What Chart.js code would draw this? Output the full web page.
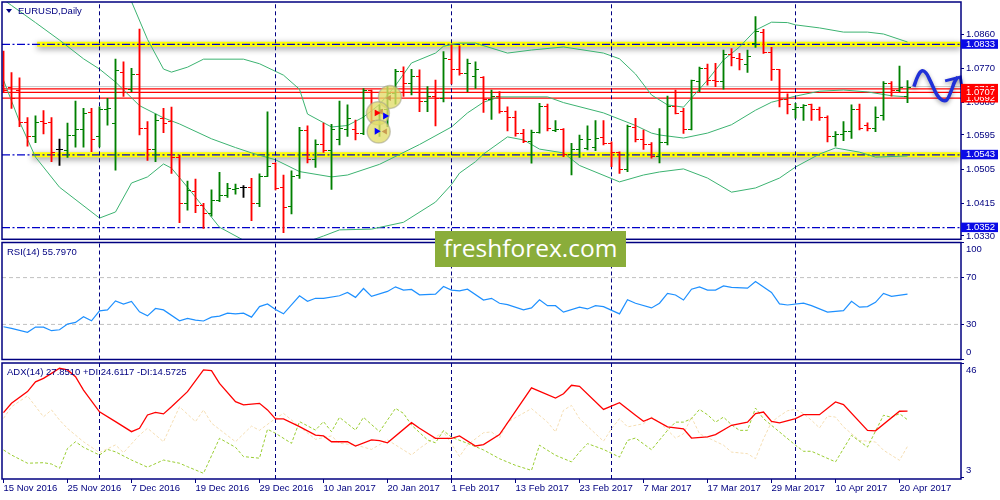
<!DOCTYPE html>
<html><head><meta charset="utf-8"><title>EURUSD Daily</title>
<script src="https://cdn.jsdelivr.net/npm/chart.js@4/dist/chart.umd.min.js"></script>
<style>
html,body{margin:0;padding:0;background:#fff;overflow:hidden}
#wrap{position:relative;width:1000px;height:500px;background:#fff}
#wrap canvas{position:absolute;left:0}
.t{position:absolute;font-family:'Liberation Sans',Arial,sans-serif;font-size:9.5px;line-height:10px;color:#000080;white-space:nowrap}
#tri{position:absolute;left:6px;top:9px;width:0;height:0;border-left:3px solid transparent;border-right:3px solid transparent;border-top:4px solid #000080}
#wm{position:absolute;left:435px;top:231px;width:191px;height:36px;background:#8aad3a;color:#fff;font-family:'Open Sans',sans-serif;font-size:24.5px;line-height:34px;text-align:center}
</style></head><body>
<div id="wrap">
<canvas id="cMain" width="1000" height="241" style="top:0"></canvas>
<canvas id="cRsi" width="1000" height="120" style="top:241px"></canvas>
<canvas id="cAdx" width="1000" height="139" style="top:361px"></canvas>
<div id="tri"></div>
<div class="t" style="left:18px;top:6px">EURUSD,Daily</div>
<div class="t" style="left:7px;top:247px">RSI(14) 55.7970</div>
<div class="t" style="left:7px;top:367px">ADX(14) 27.8510 +DI:24.6117 -DI:14.5725</div>
<div id="wm">freshforex.com</div>
</div>
<script>
// ---------------- data ----------------
const dateTicks = ["15 Nov 2016","25 Nov 2016","7 Dec 2016","19 Dec 2016","29 Dec 2016","10 Jan 2017","20 Jan 2017","1 Feb 2017","13 Feb 2017","23 Feb 2017","7 Mar 2017","17 Mar 2017","29 Mar 2017","10 Apr 2017","20 Apr 2017"];
const opens = [1.0724,1.0720,1.0713,1.0627,1.0592,1.0630,1.0627,1.0556,1.0554,1.0593,
1.0610,1.0654,1.0591,1.0661,1.0624,1.0760,1.0715,1.0753,1.0613,1.0558,
1.0639,1.0630,1.0536,1.0414,1.0446,1.0411,1.0388,1.0424,1.0435,1.0453,
1.0458,1.0457,1.0414,1.0487,1.0519,1.0457,1.0407,1.0490,1.0606,1.0531,
1.0569,1.0554,1.0582,1.0610,1.0610,1.0600,1.0711,1.0633,1.0661,1.0704,
1.0761,1.0731,1.0748,1.0682,1.0696,1.0691,1.0794,1.0767,1.0757,1.0748,
1.0746,1.0687,1.0696,1.0656,1.0641,1.0598,1.0578,1.0601,1.0671,1.0606,
1.0610,1.0545,1.0557,1.0560,1.0563,1.0589,1.0573,1.0549,1.0505,1.0615,
1.0582,1.0569,1.0538,1.0575,1.0671,1.0656,1.0610,1.0735,1.0770,1.0739,
1.0736,1.0805,1.0796,1.0781,1.0834,1.0864,1.0811,1.0766,1.0689,1.0662,
1.0668,1.0674,1.0662,1.0641,1.0591,1.0595,1.0604,1.0662,1.0619,1.0612,
1.0647,1.0729,1.0711,1.0696];
const highs = [1.0815,1.0759,1.0745,1.0641,1.0645,1.0659,1.0641,1.0584,1.0626,1.0684,
1.0665,1.0665,1.0669,1.0691,1.0794,1.0787,1.0770,1.0873,1.0630,1.0650,
1.0665,1.0668,1.0542,1.0474,1.0479,1.0416,1.0451,1.0497,1.0468,1.0466,
1.0462,1.0481,1.0493,1.0656,1.0522,1.0490,1.0501,1.0615,1.0619,1.0582,
1.0626,1.0623,1.0684,1.0674,1.0634,1.0717,1.0713,1.0674,1.0722,1.0767,
1.0774,1.0767,1.0766,1.0722,1.0739,1.0814,1.0831,1.0829,1.0794,1.0787,
1.0748,1.0713,1.0709,1.0669,1.0658,1.0610,1.0608,1.0678,1.0676,1.0633,
1.0612,1.0573,1.0595,1.0619,1.0633,1.0633,1.0577,1.0551,1.0621,1.0639,
1.0608,1.0575,1.0612,1.0697,1.0713,1.0665,1.0739,1.0773,1.0781,1.0783,
1.0818,1.0822,1.0809,1.0818,1.0906,1.0872,1.0825,1.0767,1.0703,1.0678,
1.0675,1.0676,1.0668,1.0645,1.0604,1.0630,1.0674,1.0676,1.0627,1.0669,
1.0735,1.0735,1.0776,1.0738];
const lows = [1.0709,1.0665,1.0617,1.0566,1.0575,1.0598,1.0525,1.0515,1.0536,1.0563,
1.0563,1.0551,1.0564,1.0621,1.0503,1.0696,1.0709,1.0595,1.0528,1.0525,
1.0601,1.0494,1.0365,1.0398,1.0391,1.0350,1.0382,1.0420,1.0431,1.0440,
1.0431,1.0370,1.0407,1.0486,1.0451,1.0339,1.0388,1.0481,1.0522,1.0510,
1.0549,1.0452,1.0569,1.0591,1.0582,1.0596,1.0627,1.0591,1.0617,1.0676,
1.0696,1.0700,1.0656,1.0656,1.0619,1.0682,1.0729,1.0752,1.0709,1.0717,
1.0654,1.0636,1.0652,1.0606,1.0592,1.0575,1.0521,1.0600,1.0606,1.0604,
1.0538,1.0490,1.0536,1.0556,1.0554,1.0569,1.0512,1.0494,1.0499,1.0577,
1.0557,1.0534,1.0522,1.0569,1.0650,1.0599,1.0608,1.0709,1.0726,1.0722,
1.0715,1.0776,1.0766,1.0759,1.0825,1.0809,1.0738,1.0669,1.0650,1.0639,
1.0633,1.0633,1.0633,1.0577,1.0566,1.0580,1.0586,1.0608,1.0606,1.0604,
1.0634,1.0697,1.0709,1.0680];
const closes = [1.0713,1.0691,1.0627,1.0592,1.0627,1.0626,1.0550,1.0556,1.0593,1.0610,
1.0652,1.0584,1.0662,1.0665,1.0763,1.0716,1.0753,1.0613,1.0558,1.0634,
1.0626,1.0536,1.0414,1.0449,1.0411,1.0389,1.0424,1.0437,1.0455,1.0455,
1.0458,1.0414,1.0487,1.0513,1.0455,1.0405,1.0487,1.0606,1.0531,1.0569,
1.0554,1.0610,1.0612,1.0639,1.0600,1.0711,1.0633,1.0661,1.0704,1.0761,
1.0731,1.0748,1.0682,1.0696,1.0691,1.0796,1.0767,1.0757,1.0783,1.0766,
1.0687,1.0696,1.0656,1.0641,1.0598,1.0578,1.0601,1.0671,1.0612,1.0610,
1.0545,1.0557,1.0582,1.0582,1.0586,1.0573,1.0549,1.0505,1.0617,1.0582,
1.0569,1.0538,1.0575,1.0671,1.0652,1.0610,1.0738,1.0770,1.0738,1.0736,
1.0805,1.0799,1.0792,1.0802,1.0866,1.0811,1.0766,1.0689,1.0674,1.0668,
1.0673,1.0662,1.0641,1.0591,1.0595,1.0604,1.0662,1.0612,1.0613,1.0641,
1.0729,1.0711,1.0720,1.0720];

// Bollinger bands: [bar index, price]
const bbUpper = [[14,1.1030],[16,1.0945],[18,1.0846],[20,1.0768],[21,1.0760],[23,1.0773],[25,1.0794],[30,1.0794],[32,1.0782],[35,1.0752],[37,1.0715],[38,1.0650],[41,1.0616],[43,1.0620],[45,1.0642],[47,1.0675],[49,1.0725],[51,1.0784],[54,1.0810],[55,1.0828],[57,1.0836],[59,1.0836],[63,1.0810],[66,1.0818],[70,1.0826],[75,1.0810],[77,1.0795],[79,1.0755],[81,1.0700],[83,1.0674],[85,1.0668],[86,1.0692],[88,1.0739],[90,1.0792],[92,1.0826],[94,1.0870],[96,1.0891],[98,1.0890],[99,1.0884],[102,1.0876],[105,1.0865],[108,1.0865],[110,1.0860],[113,1.0839]];
const bbMiddle = [[0,1.0950],[1,1.0935],[4,1.0890],[7,1.0844],[10,1.0795],[12,1.0768],[14,1.0734],[17,1.0672],[20,1.0640],[22,1.0624],[26,1.0585],[29,1.0562],[31,1.0548],[34,1.0530],[37,1.0499],[41,1.0485],[43,1.0490],[47,1.0518],[52,1.0570],[56,1.0616],[58,1.0653],[60,1.0681],[62,1.0695],[68,1.0695],[70,1.0680],[75,1.0653],[79,1.0620],[81,1.0600],[82,1.0595],[85,1.0587],[88,1.0600],[91,1.0622],[94,1.0660],[96,1.0681],[99,1.0697],[102,1.0710],[105,1.0713],[108,1.0708],[111,1.0698],[113,1.0695]];
const bbLower = [[0,1.0739],[2,1.0630],[4,1.0537],[7,1.0458],[12,1.0377],[14,1.0393],[16,1.0469],[18,1.0485],[20,1.0519],[21,1.0508],[23,1.0458],[27,1.0353],[30,1.0319],[32,1.0300],[36,1.0300],[40,1.0330],[42,1.0346],[46,1.0348],[50,1.0366],[54,1.0419],[56,1.0465],[57,1.0495],[59,1.0525],[60,1.0545],[63,1.0590],[65,1.0582],[67,1.0558],[70,1.0548],[72,1.0515],[77,1.0472],[80,1.0490],[82,1.0498],[85,1.0506],[88,1.0482],[91,1.0445],[94,1.0456],[97,1.0482],[99,1.0511],[102,1.0545],[104,1.0561],[107,1.0550],[109,1.0537],[113,1.0540]];

const rsiPts = [[0,28.0],[1,26.6],[3,23.2],[4,27.7],[5,27.7],[6,24.6],[7,25.4],[8,30.3],[9,31.7],[10,36.5],[11,33.1],[12,41.6],[13,42.4],[14,50.1],[15,47.3],[16,49.6],[17,40.7],[18,37.3],[19,43.6],[20,42.4],[22,33.1],[23,35.1],[24,33.7],[25,32.9],[26,36.2],[27,37.1],[28,39.6],[29,39.0],[30,39.6],[31,36.2],[32,45.2],[33,47.5],[34,42.7],[35,39.0],[37,54.5],[38,49.7],[39,52.3],[40,52.3],[42,54.5],[43,57.3],[44,53.1],[45,60.7],[46,54.0],[48,58.2],[49,62.1],[50,59.3],[51,59.9],[52,55.3],[54,55.9],[55,62.4],[56,59.3],[57,58.7],[58,60.1],[60,50.8],[61,52.3],[62,48.1],[63,46.9],[65,42.4],[66,44.1],[67,51.1],[68,46.0],[69,46.0],[70,40.5],[72,44.7],[73,43.2],[74,46.0],[75,45.2],[77,39.0],[78,51.1],[79,48.1],[81,44.1],[82,48.1],[83,56.5],[84,55.1],[85,50.8],[86,60.1],[87,62.1],[88,59.3],[89,59.3],[90,62.9],[91,61.6],[93,61.0],[94,66.6],[96,57.3],[97,47.5],[98,46.6],[100,48.1],[101,46.0],[103,40.5],[105,41.8],[106,49.7],[107,44.7],[108,45.2],[109,48.9],[110,56.5],[111,54.0],[113,55.8]];

const adxPts = [[0,27.3],[1,30.8],[3,35.2],[4,38.9],[5,40.2],[6,42.1],[7,44.0],[8,43.4],[9,40.8],[10,35.8],[12,27.6],[14,23.9],[16,20.1],[17,21.4],[18,26.4],[19,27.4],[20,26.8],[21,29.5],[23,35.2],[25,43.4],[26,43.1],[27,38.3],[29,31.4],[30,30.2],[32,30.8],[33,28.3],[34,24.9],[35,24.9],[37,22.0],[39,18.8],[40,18.5],[41,16.3],[43,16.3],[44,14.7],[46,17.0],[47,16.7],[48,15.9],[51,23.5],[52,21.4],[54,17.6],[56,17.6],[57,18.5],[59,14.7],[60,15.2],[62,19.0],[66,36.6],[69,32.8],[70,34.4],[71,37.6],[72,37.2],[75,28.5],[77,31.0],[79,26.3],[80,24.0],[81,25.3],[83,21.9],[85,21.2],[86,17.7],[88,18.1],[89,19.0],[91,22.5],[93,23.7],[94,26.9],[95,27.5],[96,24.0],[97,23.4],[99,25.0],[100,26.5],[102,26.5],[104,31.3],[105,30.3],[108,20.6],[109,20.4],[112,27.8],[113,27.85]];
const plusDiPts = [[0,13.2],[1,11.3],[3,8.2],[5,8.4],[6,7.9],[7,6.3],[8,13.8],[9,16.3],[10,14.2],[12,11.3],[13,13.4],[14,12.5],[16,9.4],[18,6.7],[20,9.4],[22,8.2],[23,6.9],[25,4.4],[27,17.6],[29,14.2],[30,10.7],[32,10.1],[33,21.0],[34,19.5],[36,15.7],[37,23.9],[39,20.7],[40,23.9],[41,20.1],[42,25.5],[44,20.7],[45,25.5],[47,20.1],[49,28.9],[50,27.0],[51,22.6],[53,17.0],[54,15.9],[55,20.5],[56,18.0],[58,15.7],[60,13.2],[62,9.9],[64,7.4],[66,5.5],[67,15.0],[69,11.2],[71,8.7],[72,12.4],[73,15.6],[75,13.4],[77,10.5],[78,16.8],[79,17.7],[81,13.3],[83,20.6],[84,23.7],[85,23.7],[86,25.0],[87,28.5],[88,26.5],[89,23.7],[90,25.6],[91,22.7],[92,20.6],[93,20.6],[94,29.0],[95,25.0],[97,20.0],[99,15.0],[100,12.7],[101,12.7],[104,8.7],[106,18.7],[108,14.3],[110,26.3],[111,25.5],[112,26.9],[113,24.6]];
const minusDiPts = [[0,25.1],[1,29.5],[3,33.6],[5,25.7],[6,28.3],[7,24.5],[8,21.3],[10,16.3],[12,12.2],[14,15.1],[15,12.2],[17,18.8],[18,21.4],[20,16.3],[22,29.5],[24,23.9],[25,28.3],[26,23.3],[29,16.3],[31,22.2],[32,20.6],[34,25.1],[35,27.0],[37,22.0],[39,17.2],[41,18.5],[42,15.7],[44,15.1],[46,13.4],[48,17.0],[50,13.2],[51,11.3],[52,13.8],[55,20.1],[57,10.7],[58,15.1],[60,19.7],[61,20.0],[62,17.7],[63,23.7],[66,28.8],[68,23.7],[69,20.0],[70,28.2],[71,30.0],[72,25.0],[75,16.5],[76,21.2],[77,25.0],[78,21.9],[80,23.1],[81,25.6],[82,23.7],[84,17.7],[85,19.3],[86,25.6],[87,19.3],[90,15.0],[91,12.4],[93,11.8],[94,9.9],[95,17.4],[96,23.7],[97,26.0],[98,28.0],[99,28.5],[100,26.9],[101,24.4],[102,21.5],[103,26.0],[104,25.6],[105,21.9],[107,16.8],[109,16.2],[110,13.1],[112,9.3],[113,14.57]];

const priceTicks = [1.0860,1.0770,1.0680,1.0595,1.0505,1.0415,1.0330];
const rsiTicks = [0,30,70,100];
const adxTicks = [3,46];
const rsiLevels = [70,30];
const yellowLevels = [1.0833,1.0543];
const yellowStart = [4.2,3.6];
const dashLevels = [1.0833,1.0543,1.0352];
const redLevels = [1.0716,1.0707,1.0692];
const greyLevel = 1.0722;
const monthStarts = [12,34,56,76,99];
const labelBoxes = [
  {v:1.0833,bg:'#0a0ae6'},{v:1.0543,bg:'#0a0ae6'},{v:1.0352,bg:'#0a0ae6'},
  {v:1.0716,bg:'#ff0000'},{v:1.0692,bg:'#ff0000'},{v:1.0707,bg:'#ff0000'}];
const arrowCurve = [[113.8,1.0722],[114.3,1.0750],[114.8,1.0763],[115.3,1.0758],[115.8,1.0739],[116.7,1.0700],[117.3,1.0687],[117.9,1.0687],[118.5,1.0713],[118.9,1.0735],[119.3,1.0747]];
const arrowHead = [[117.7,1.0737],[119.6,1.0747],[119.8,1.0721]];
const circles = [[48.3,1.0695],[46.8,1.0652],[46.9,1.0604]];
const glyphsRed = [[46.65,1.0653]];
const glyphsBlue = [[47.7,1.0645],[46.65,1.0605]];
const glyphsTan = [[48.2,1.0692],[47.2,1.0656],[47.7,1.0604]];

// ---------------- setup ----------------
const XMIN = -0.1875, XMAX = 119.6875;
const YMIN = 1.03213, YMAX = 1.09440;
const FONT = {family:"'Liberation Sans', Arial, sans-serif", size:9.5};
const NAVY = '#000080';
const GREEN = '#008000', RED = '#ff0000', BLACK = '#000000';

const pairs = a => a.map(p => ({x:p[0], y:p[1]}));
const hline = (v, x0) => [{x:(x0===undefined?XMIN:x0), y:v}, {x:XMAX, y:v}];
function vlines(idx, y0, y1){
  const d = [];
  idx.forEach(m => { d.push({x:m,y:y0},{x:m,y:y1},{x:m,y:null}); });
  return d;
}
function tickImg(color, left){
  const c = document.createElement('canvas'); c.width = 7; c.height = 1;
  const g = c.getContext('2d'); g.fillStyle = color;
  if (left) g.fillRect(0,0,4,1); else g.fillRect(3,0,4,1);
  return c;
}
const imgs = {};
[GREEN,RED,BLACK].forEach(c => { imgs[c] = {L:tickImg(c,true), R:tickImg(c,false)}; });
const barColor = opens.map((o,i) => closes[i] > o ? GREEN : (closes[i] < o ? RED : BLACK));

const framePlugin = {id:'frame', afterDraw(c){
  const a = c.chartArea, g = c.ctx; g.save(); g.strokeStyle = NAVY; g.lineWidth = 1.5;
  g.strokeRect(a.left, a.top, a.right-a.left, a.bottom-a.top); g.restore(); }};
const shadowPlugin = {id:'shadowds',
  beforeDatasetDraw(c, args){ const ds = c.data.datasets[args.index];
    if (ds.shadowCfg){ const g = c.ctx; g.save(); g.shadowColor = ds.shadowCfg.color; g.shadowBlur = ds.shadowCfg.blur; g.shadowOffsetY = ds.shadowCfg.dy; g.shadowOffsetX = 0; } },
  afterDatasetDraw(c, args){ if (c.data.datasets[args.index].shadowCfg) c.ctx.restore(); }};
const boxPlugin = {id:'boxes', afterDraw(c){
  const y = c.scales.y, g = c.ctx; g.save();
  g.font = "9.5px 'Liberation Sans', Arial, sans-serif"; g.textBaseline = 'middle';
  labelBoxes.forEach(b => { const py = y.getPixelForValue(b.v);
    g.fillStyle = b.bg; g.fillRect(961, py-5, 37, 9.5);
    g.fillStyle = '#ffffff'; g.fillText(b.v.toFixed(4), 966, py); });
  g.restore(); }};

function yAxis(min, max, tickVals, cb){
  return {type:'linear', position:'right', min, max,
    afterFit: s => { s.width = 39; s.paddingTop = 0; s.paddingBottom = 0; },
    afterBuildTicks: s => { s.ticks = tickVals.map(v => ({value:v})); },
    ticks:{callback:cb, color:NAVY, font:Object.assign({lineHeight:'14px'}, FONT), padding:2, autoSkip:false},
    grid:{drawOnChartArea:false, drawTicks:true, tickLength:3, color:NAVY},
    border:{display:false}};
}
function xHidden(){ return {type:'linear', min:XMIN, max:XMAX, offset:false, display:false}; }
function baseOpts(padding, scales){
  return {responsive:false, animation:false, devicePixelRatio:1, events:[],
    layout:{padding, autoPadding:false},
    plugins:{legend:{display:false}, tooltip:{enabled:false}},
    elements:{point:{radius:0}, line:{tension:0}},
    scales};
}

// ---------------- main price chart ----------------
const mainSets = [];
const arrowShadow = {color:'rgba(0,0,0,0.35)', blur:4, dy:2};
mainSets.push({type:'line', data:pairs(arrowCurve), borderColor:'#2030d8', borderWidth:3.5, tension:0.4, clip:false, shadowCfg:arrowShadow});
mainSets.push({type:'line', data:pairs(arrowHead), borderColor:'#2030d8', borderWidth:3, clip:false, shadowCfg:arrowShadow});
mainSets.push({type:'line', showLine:false, data:pairs(glyphsRed), pointStyle:'triangle', rotation:90, pointRadius:4, pointBackgroundColor:'#ff0000', pointBorderColor:'#ff0000', pointBorderWidth:0});
mainSets.push({type:'line', showLine:false, data:pairs(glyphsBlue), pointStyle:'triangle', rotation:90, pointRadius:4, pointBackgroundColor:'#0000ff', pointBorderColor:'#0000ff', pointBorderWidth:0});
mainSets.push({type:'line', showLine:false, data:pairs(glyphsTan), pointStyle:'triangle', rotation:-90, pointRadius:3.5, pointBackgroundColor:'#c89a50', pointBorderColor:'#c89a50', pointBorderWidth:0});
mainSets.push({type:'line', showLine:false, data:pairs(circles), pointRadius:11.5, pointBackgroundColor:'rgba(226,220,105,0.78)', pointBorderColor:'rgba(160,160,140,0.55)', pointBorderWidth:1.5});
mainSets.push({type:'line', showLine:false, data:opens.map((v,i)=>({x:i,y:v})), pointStyle:barColor.map(c=>imgs[c].L), pointRadius:3});
mainSets.push({type:'line', showLine:false, data:closes.map((v,i)=>({x:i,y:v})), pointStyle:barColor.map(c=>imgs[c].R), pointRadius:3});
mainSets.push({type:'bar', data:lows.map((l,i)=>({x:i, y:[l, highs[i]]})), backgroundColor:barColor, barThickness:1.2, grouped:false, borderWidth:0});
mainSets.push({type:'line', data:vlines(monthStarts, YMIN, YMAX), borderColor:NAVY, borderWidth:1, borderDash:[4,3], spanGaps:false});
[bbUpper, bbMiddle, bbLower].forEach(b => mainSets.push({type:'line', data:pairs(b), borderColor:'#3cb371', borderWidth:1}));
redLevels.forEach(v => mainSets.push({type:'line', data:hline(v), borderColor:'#ff0000', borderWidth:1.3}));
mainSets.push({type:'line', data:hline(greyLevel), borderColor:'#c8c8c8', borderWidth:1});
dashLevels.forEach(v => mainSets.push({type:'line', data:hline(v), borderColor:'#0000c8', borderWidth:1.2, borderDash:[8,2.5,2,2.5]}));
yellowLevels.forEach((v,k) => mainSets.push({type:'line', data:hline(v, yellowStart[k]), borderColor:'#ffff00', borderWidth:5, borderCapStyle:'butt', shadowCfg:{color:'rgba(0,0,0,0.45)', blur:6, dy:2}}));

new Chart(document.getElementById('cMain'), {
  type:'line', data:{datasets:mainSets},
  options: baseOpts({left:2, top:2, right:0, bottom:1.7}, {
    x: xHidden(),
    y: yAxis(YMIN, YMAX, priceTicks, v => Number(v).toFixed(4))
  }),
  plugins:[shadowPlugin, framePlugin, boxPlugin]
});

// ---------------- RSI ----------------
const rsiSets = [
  {type:'line', data:pairs(rsiPts), borderColor:'#1e90ff', borderWidth:1.2},
  {type:'line', data:vlines(monthStarts, 0, 100), borderColor:NAVY, borderWidth:1, borderDash:[4,3], spanGaps:false}
];
rsiLevels.forEach(v => rsiSets.push({type:'line', data:hline(v), borderColor:'#c0c0c0', borderWidth:1, borderDash:[4,3]}));
new Chart(document.getElementById('cRsi'), {
  type:'line', data:{datasets:rsiSets},
  options: baseOpts({left:2, top:1.5, right:0, bottom:1.5}, {
    x: xHidden(),
    y: yAxis(0, 100, rsiTicks, v => v===100 ? ['', '100'] : (v===0 ? ['0', ''] : String(v)))
  }),
  plugins:[framePlugin]
});

// ---------------- ADX ----------------
const ADXMIN = 2.25, ADXMAX = 46;
const adxSets = [
  {type:'line', data:pairs(adxPts), borderColor:'#ff0000', borderWidth:1.3},
  {type:'line', data:pairs(plusDiPts), borderColor:'#9acd32', borderWidth:1, borderDash:[3,2]},
  {type:'line', data:pairs(minusDiPts), borderColor:'#f5deb3', borderWidth:1, borderDash:[3,2]},
  {type:'line', data:vlines(monthStarts, ADXMIN, ADXMAX), borderColor:NAVY, borderWidth:1, borderDash:[4,3], spanGaps:false}
];
new Chart(document.getElementById('cAdx'), {
  type:'line', data:{datasets:adxSets},
  options: baseOpts({left:2, top:2, right:0, bottom:0}, {
    x: {type:'linear', position:'bottom', min:XMIN, max:XMAX, offset:false,
      afterBuildTicks: s => { s.ticks = dateTicks.map((_,k) => ({value:k*8})); },
      afterFit: s => { s.height = 21; s.paddingLeft = 0; s.paddingRight = 0; },
      ticks:{callback: v => dateTicks[Math.round(v/8)], align:'start', maxRotation:0, minRotation:0, autoSkip:false, color:NAVY, font:FONT, padding:0},
      grid:{drawOnChartArea:false, drawTicks:true, tickLength:4, color:NAVY},
      border:{display:false}},
    y: yAxis(ADXMIN, ADXMAX, adxTicks, v => v===46 ? ['', '46'] : ['3', ''])
  }),
  plugins:[framePlugin]
});
</script>
</body></html>
